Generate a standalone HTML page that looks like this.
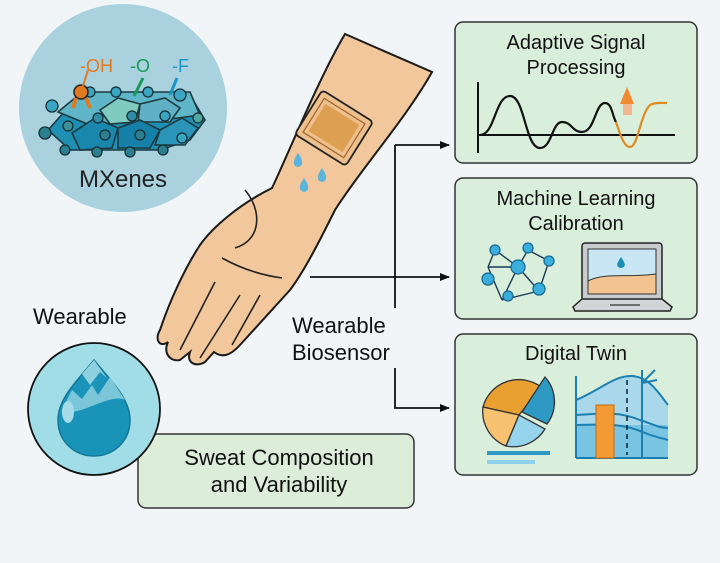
<!DOCTYPE html>
<html><head><meta charset="utf-8"><style>
html,body{margin:0;padding:0;background:#f1f5f8;}
svg{display:block;font-family:"Liberation Sans",sans-serif;}
</style></head><body>
<svg width="720" height="563" viewBox="0 0 720 563" xmlns="http://www.w3.org/2000/svg">
<rect width="720" height="563" fill="#f1f5f8"/>
<defs><marker id="ar" markerWidth="10" markerHeight="10" refX="9" refY="5" orient="auto" markerUnits="userSpaceOnUse"><path d="M0,1 L10,5 L0,9 Z" fill="#111"/></marker></defs>

<!-- MXenes circle -->
<circle cx="123" cy="108" r="104" fill="#a9d2de"/>
<g stroke="#1c3a40" stroke-width="1.6">
<polygon points="48,130 75,100 190,95 205,120 190,140 160,150 70,150" fill="#1f8fb3"/>
<polygon points="58,112 82,92 190,92 200,115 178,118 90,125" fill="#5fb6c8"/>
<polygon points="100,110 118,98 140,104 135,122 110,124" fill="#7fcbc0"/>
<polygon points="140,104 165,98 180,108 170,122 138,122" fill="#5fb0c4"/>
<polygon points="72,133 95,118 118,128 112,148 80,150" fill="#1a88ad"/>
<polygon points="118,128 140,120 160,130 150,148 118,148" fill="#1580a8"/>
<polygon points="160,130 182,118 198,128 185,145 155,145" fill="#2a95b8"/>
</g>
<g fill="#3aa6c4" stroke="#153035" stroke-width="1.3">
<circle cx="52" cy="106" r="6"/><circle cx="90" cy="92" r="5"/><circle cx="116" cy="92" r="5"/><circle cx="148" cy="92" r="5"/><circle cx="180" cy="95" r="6"/>
<circle cx="98" cy="118" r="5" fill="#2f8da8"/><circle cx="132" cy="116" r="5" fill="#2f8da8"/><circle cx="165" cy="116" r="5"/><circle cx="198" cy="118" r="5" fill="#4fa9a0"/>
<circle cx="45" cy="133" r="6" fill="#2c7f8e"/><circle cx="68" cy="126" r="5" fill="#3d8f98"/><circle cx="105" cy="135" r="5" fill="#2c7f8e"/><circle cx="140" cy="135" r="5" fill="#2c7f8e"/><circle cx="182" cy="138" r="5"/>
<circle cx="65" cy="150" r="5" fill="#2c7f8e"/><circle cx="97" cy="152" r="5" fill="#2c7f8e"/><circle cx="130" cy="152" r="5" fill="#2c7f8e"/><circle cx="163" cy="150" r="5" fill="#2c7f8e"/>
</g>
<circle cx="81" cy="92" r="7" fill="#e07a20" stroke="#222" stroke-width="1.5"/>
<path d="M76,98 L73,108 M86,98 L90,108" stroke="#e07a20" stroke-width="4"/>
<line x1="88" y1="70" x2="83" y2="86" stroke="#e07a20" stroke-width="2"/>
<line x1="143" y1="78" x2="134" y2="96" stroke="#1a9a5a" stroke-width="3"/>
<line x1="177" y1="78" x2="170" y2="95" stroke="#1a96c8" stroke-width="3"/>
<text x="80" y="72" font-size="18" fill="#e07a20">-OH</text>
<text x="130" y="72" font-size="18" fill="#1a9a5a">-O</text>
<text x="172" y="72" font-size="18" fill="#1a96c8">-F</text>
<text x="123" y="187" font-size="24" fill="#222" text-anchor="middle">MXenes</text>

<!-- connectors -->
<g stroke="#111" stroke-width="1.8" fill="none">
<line x1="395" y1="145" x2="395" y2="308"/>
<line x1="395" y1="145" x2="449" y2="145" marker-end="url(#ar)"/>
<line x1="310" y1="277" x2="449" y2="277" marker-end="url(#ar)"/>
<polyline points="395,368 395,408 449,408" marker-end="url(#ar)"/>
</g>

<!-- hand -->
<path d="M345,34 L432,72 C405,120 360,170 335,210 C320,240 305,270 290,290 L240,345 C230,356 222,358 214,352 L205,362 C195,368 186,362 190,352 L180,360 C170,362 163,353 168,342 C160,348 154,340 160,330 C170,300 185,268 200,245 C212,228 238,205 272,188 C290,150 318,80 345,34 Z" fill="#f2c79b" stroke="#1a1a1a" stroke-width="2"/>
<path d="M245,190 C262,210 262,240 235,248" stroke="#222" stroke-width="1.6" fill="none"/>
<path d="M222,258 C240,268 260,275 282,278" stroke="#222" stroke-width="1.6" fill="none"/>
<path d="M215,282 L180,350 M240,295 L200,358 M260,295 L232,345" stroke="#222" stroke-width="1.6" fill="none"/>
<g transform="rotate(32 334 128)">
<rect x="304" y="102" width="60" height="52" rx="4" fill="#edc08d" stroke="#222" stroke-width="1.8"/>
<rect x="310" y="108" width="48" height="40" fill="none" stroke="#a0622b" stroke-width="1.2"/>
<rect x="314" y="112" width="40" height="32" fill="#dda052"/>
</g>
<g fill="#5ab4dc">
<path d="M298,153 C303,160 304,166 298,167 C292,166 293,160 298,153Z"/>
<path d="M322,168 C327,175 328,181 322,182 C316,181 317,175 322,168Z"/>
<path d="M304,178 C309,185 310,191 304,192 C298,191 299,185 304,178Z"/>
</g>

<text x="33" y="324" font-size="22" fill="#111">Wearable</text>
<text x="292" y="333" font-size="22" fill="#111">Wearable</text>
<text x="292" y="360" font-size="22" fill="#111">Biosensor</text>

<!-- sweat -->
<rect x="138" y="434" width="276" height="74" rx="8" fill="#dcedda" stroke="#333" stroke-width="1.5"/>
<text x="279" y="465" font-size="22" fill="#111" text-anchor="middle">Sweat Composition</text>
<text x="279" y="492" font-size="22" fill="#111" text-anchor="middle">and Variability</text>
<circle cx="94" cy="409" r="66" fill="#a1dde6" stroke="#111" stroke-width="1.8"/>
<path d="M94,360 C110,380 130,398 130,420 C130,442 113,456 94,456 C75,456 58,442 58,420 C58,398 78,380 94,360Z" fill="#1a93b8" stroke="#137797" stroke-width="1.5"/>
<path d="M72,390 L82,399 L92,385 L98,395 L110,377 L125,400 C110,392 75,420 62,410 Z" fill="#7cc6da"/>
<path d="M82,374 L90,385 L100,372 L107,378 L94,360Z" fill="#8fd0e0"/>
<ellipse cx="68" cy="412" rx="6" ry="11" fill="#a7dbe8"/>

<!-- panels -->
<g fill="#d9eedb" stroke="#333" stroke-width="1.5">
<rect x="455" y="22" width="242" height="141" rx="8"/>
<rect x="455" y="178" width="242" height="141" rx="8"/>
<rect x="455" y="334" width="242" height="141" rx="8"/>
</g>
<g font-size="20" fill="#111" text-anchor="middle">
<text x="576" y="49">Adaptive Signal</text>
<text x="576" y="74">Processing</text>
<text x="576" y="205">Machine Learning</text>
<text x="576" y="230">Calibration</text>
<text x="576" y="360">Digital Twin</text>
</g>
<!-- signal -->
<line x1="478" y1="82" x2="478" y2="153" stroke="#111" stroke-width="2"/>
<line x1="478" y1="135" x2="675" y2="135" stroke="#111" stroke-width="2"/>
<path d="M480,135 C495,135 495,96 510,96 C525,96 525,148 540,148 C552,148 552,122 562,122 C572,122 572,132 582,132 C595,132 595,103 605,103 C612,103 612,115 616,122" stroke="#111" stroke-width="2.2" fill="none"/>
<path d="M616,122 C622,140 625,147 630,147 C638,147 640,115 650,105 C656,102 662,103 667,103" stroke="#e08a20" stroke-width="2.2" fill="none"/>
<rect x="623" y="103" width="9" height="12" fill="#f0b890"/>
<path d="M620,104 L627,87 L634,104Z" fill="#f08a30"/>
<!-- network -->
<g stroke="#1a3a55" stroke-width="1.4">
<line x1="488" y1="267" x2="518" y2="267"/><line x1="488" y1="267" x2="502" y2="300"/><line x1="518" y1="267" x2="528" y2="250"/><line x1="518" y1="267" x2="539" y2="291"/><line x1="518" y1="267" x2="502" y2="300"/><line x1="528" y1="250" x2="549" y2="261"/><line x1="549" y1="261" x2="539" y2="291"/><line x1="502" y1="300" x2="539" y2="291"/><line x1="495" y1="250" x2="518" y2="267"/><line x1="495" y1="250" x2="488" y2="267"/>
</g>
<g fill="#3aaedc" stroke="#1a6a95" stroke-width="1.3">
<circle cx="495" cy="250" r="5"/><circle cx="528" cy="248" r="5"/><circle cx="549" cy="261" r="5"/><circle cx="518" cy="267" r="7"/><circle cx="488" cy="279" r="6"/><circle cx="539" cy="289" r="6"/><circle cx="508" cy="296" r="5"/>
</g>
<!-- laptop -->
<rect x="582" y="243" width="80" height="58" rx="3" fill="#c9ccce" stroke="#222" stroke-width="1.5"/>
<rect x="588" y="249" width="68" height="45" fill="#c8e6f3" stroke="#333" stroke-width="1"/>
<path d="M588,281 C605,272 630,278 656,274 L656,294 L588,294Z" fill="#f3c48f" stroke="#333" stroke-width="1"/>
<path d="M621,257 C625,263 627,267 621,268 C615,267 617,263 621,257Z" fill="#1a8db8"/>
<path d="M573,307 L582,299 L662,299 L672,307 L670,311 L575,311Z" fill="#d2d5d7" stroke="#222" stroke-width="1.5"/>
<line x1="610" y1="305" x2="640" y2="305" stroke="#333" stroke-width="1.2"/>
<!-- pie -->
<g stroke="#333" stroke-width="1.3">
<path d="M519,415 L483,407 A37,37 0 0 1 541,387 Z" fill="#eaa030"/>
<path d="M519,415 L483,407 A37,37 0 0 0 506,446 Z" fill="#f6c170"/>
<path d="M519,415 L506,446 A37,37 0 0 0 545,429 Z" fill="#95d4ec"/>
<path d="M522,412 L545,377 A37,37 0 0 1 547,424 Z" fill="#2e9ac4"/>
</g>
<rect x="487" y="451" width="63" height="4" fill="#2e9ac4"/>
<rect x="487" y="460" width="48" height="4" fill="#8fd0ea"/>
<!-- chart -->
<path d="M576,447 L576,400 C600,390 615,375 632,376 C650,377 660,395 668,405 L668,458 L576,458Z" fill="#a8d8ea"/>
<path d="M576,425 L668,425 L668,458 L576,458Z" fill="#6cbfe0" opacity="0.8"/>
<g stroke="#1b7fb2" stroke-width="2" fill="none">
<path d="M576,400 C600,390 615,375 632,376 C650,377 660,395 668,405"/>
<path d="M576,415 C610,413 620,412 640,420 C655,425 660,428 668,428"/>
<path d="M576,425 C610,424 625,424 645,433 C655,437 662,438 668,440"/>
<line x1="576" y1="376" x2="576" y2="458"/><line x1="576" y1="458" x2="668" y2="458"/>
<line x1="642" y1="370" x2="642" y2="458"/>
<path d="M642,383 L655,370 M642,383 L657,380"/>
</g>
<line x1="627" y1="380" x2="627" y2="455" stroke="#123" stroke-width="1.5" stroke-dasharray="5,4"/>
<rect x="596" y="405" width="18" height="53" fill="#f39a35" stroke="#c66a10" stroke-width="1"/>
</svg>
</body></html>
